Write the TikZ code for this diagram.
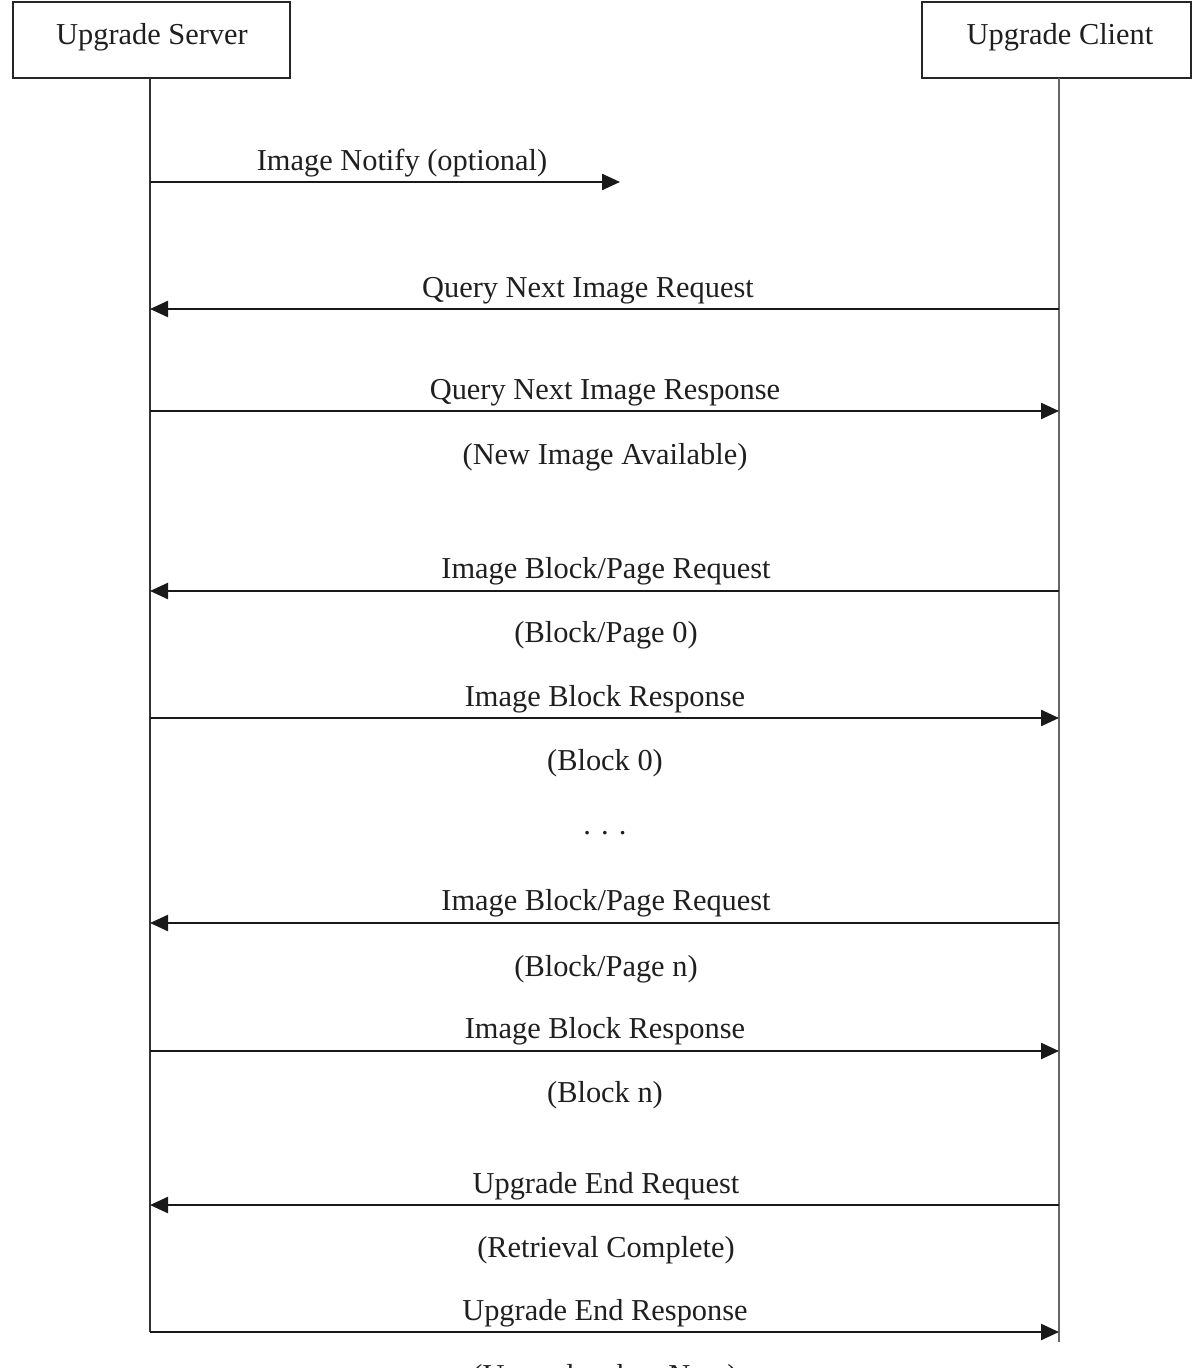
\documentclass[tikz,border=0pt]{standalone}
\usepackage{fontspec}
\setmainfont{Liberation Serif}
\usetikzlibrary{arrows.meta}
\begin{document}
\begin{tikzpicture}[x=0.5pt,y=-0.5pt,
  txt/.style={inner sep=0pt,font=\fontsize{15.2}{18}\selectfont,text=black!88},
  actor/.style={draw=black!85,line width=1pt,minimum width=0pt,inner sep=0pt},
  life/.style={draw=black!80,line width=0.8pt},
  msg/.style={draw=black!90,line width=1.2pt,-{Triangle[length=9pt,width=8pt]}}]
\useasboundingbox (0,0) rectangle (1192,1368);
\clip (0,0) rectangle (1192,1368);
% actor boxes
\draw[actor] (13,2) rectangle (290,78);
\draw[actor] (922,2) rectangle (1191,78);
\node[txt] (srv) at (152,37) {Upgrade Server};
\node[txt] (cli) at (1060,37) {Upgrade Client};
% lifelines
\coordinate (stop) at (150,78);
\coordinate (sbot) at (150,1332);
\coordinate (ctop) at (1059,78);
\coordinate (cbot) at (1059,1342);
\draw[life] (stop) -- (sbot);
\draw[life,draw=black!60] (ctop) -- (cbot);
% message points
\coordinate (s1) at (150,182); \coordinate (n1) at (620,182);
\coordinate (s2) at (150,309); \coordinate (c2) at (1059,309);
\coordinate (s3) at (150,411); \coordinate (c3) at (1059,411);
\coordinate (s4) at (150,591); \coordinate (c4) at (1059,591);
\coordinate (s5) at (150,718); \coordinate (c5) at (1059,718);
\coordinate (s6) at (150,923); \coordinate (c6) at (1059,923);
\coordinate (s7) at (150,1051); \coordinate (c7) at (1059,1051);
\coordinate (s8) at (150,1205); \coordinate (c8) at (1059,1205);
\coordinate (s9) at (150,1332); \coordinate (c9) at (1059,1332);
\draw[msg] (s1) -- (n1);
\draw[msg] (c2) -- (s2);
\draw[msg] (s3) -- (c3);
\draw[msg] (c4) -- (s4);
\draw[msg] (s5) -- (c5);
\draw[msg] (c6) -- (s6);
\draw[msg] (s7) -- (c7);
\draw[msg] (c8) -- (s8);
\draw[msg] (s9) -- (c9);
% labels
\node[txt] (l1) at (402,163) {Image Notify (optional)};
\node[txt] (l2) at (588,291) {Query Next Image Request};
\node[txt] (l3) at (605,393) {Query Next Image Response};
\node[txt] (l3b) at (605,457) {(New Image Available)};
\node[txt] (l4) at (606,571) {Image Block/Page Request};
\node[txt] (l4b) at (606,635) {(Block/Page 0)};
\node[txt] (l5) at (605,699) {Image Block Response};
\node[txt] (l5b) at (605,763) {(Block 0)};
\node[txt] (dots) at (605,833) {. . .};
\node[txt] (l6) at (606,903) {Image Block/Page Request};
\node[txt] (l6b) at (606,969) {(Block/Page n)};
\node[txt] (l7) at (605,1031) {Image Block Response};
\node[txt] (l7b) at (605,1095) {(Block n)};
\node[txt] (l8) at (606,1186) {Upgrade End Request};
\node[txt] (l8b) at (606,1250) {(Retrieval Complete)};
\node[txt] (l9) at (605,1313) {Upgrade End Response};
\node[txt] (l9b) at (605,1378) {(Upgrade when Now)};
\end{tikzpicture}
\end{document}
